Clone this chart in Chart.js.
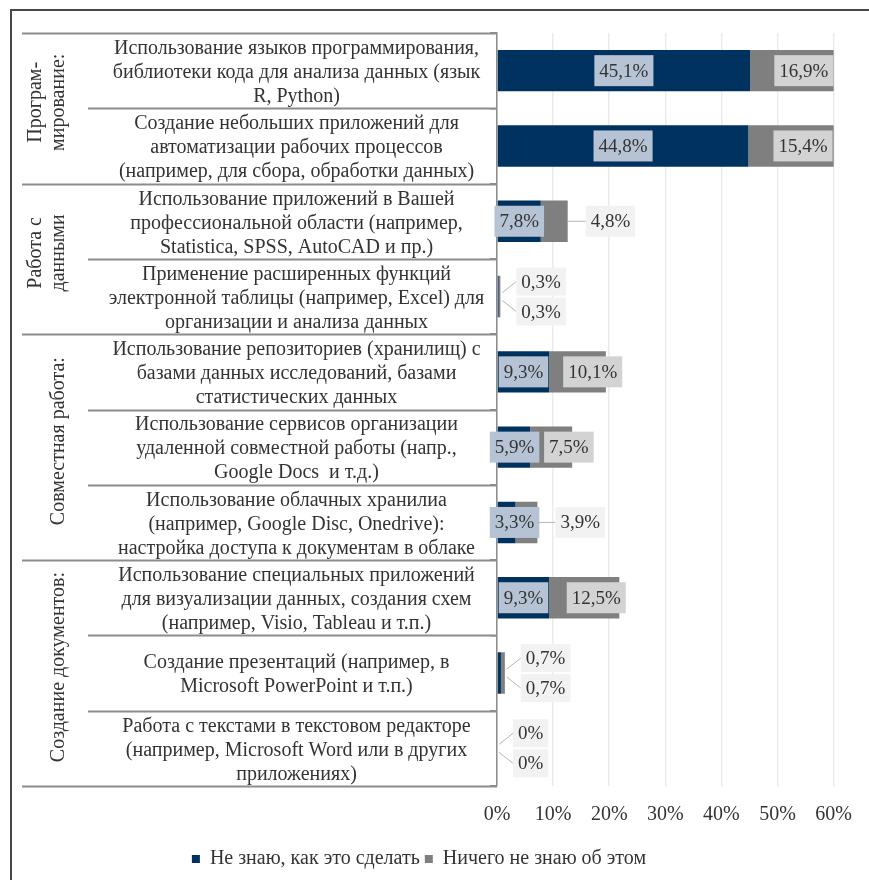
<!DOCTYPE html>
<html lang="ru">
  <head>
    <meta charset="UTF-8">
    <script src="https://cdn.jsdelivr.net/npm/chart.js"></script>
    <style>
      body { margin: 0; background: #fff; }
      #wrap { position: relative; width: 869px; height: 880px; overflow: hidden; }
      #frame {
        position: absolute; left: 10px; top: 9px; width: 900px; height: 900px;
        border-top: 2px solid #484848; border-left: 2px solid #484848;
      }
      #skillsChart { position: absolute; left: 0; top: 0; }
    </style>
  </head>
  <body>
    <div id="wrap">
      <div id="frame"></div>
      <canvas id="skillsChart" width="869" height="880"></canvas>
    </div>

    <script>
      const FONT = "'Liberation Serif', 'Times New Roman', serif";

      // category labels (one array of lines per bar)
      const categories = [
        ['Использование языков программирования,', 'библиотеки кода для анализа данных (язык', 'R, Python)'],
        ['Создание небольших приложений для', 'автоматизации рабочих процессов', '(например, для сбора, обработки данных)'],
        ['Использование приложений в Вашей', 'профессиональной области (например,', 'Statistica, SPSS, AutoCAD и пр.)'],
        ['Применение расширенных функций', 'электронной таблицы (например, Excel) для', 'организации и анализа данных'],
        ['Использование репозиториев (хранилищ) с', 'базами данных исследований, базами', 'статистических данных'],
        ['Использование сервисов организации', 'удаленной совместной работы (напр.,', 'Google Docs  и т.д.)'],
        ['Использование облачных хранилиа', '(например, Google Disc, Onedrive):', 'настройка доступа к документам в облаке'],
        ['Использование специальных приложений', 'для визуализации данных, создания схем', '(например, Visio, Tableau и т.п.)'],
        ['Создание презентаций (например, в', 'Microsoft PowerPoint и т.п.)'],
        ['Работа с текстами в текстовом редакторе', '(например, Microsoft Word или в других', 'приложениях)']
      ];

      // groups shown in the rotated left column
      const groupNames = [['Програм-', 'мирование:'], ['Работа с', 'данными'], ['Совместная работа:'], ['Создание документов:']];
      const groupSizes = [2, 2, 3, 3];

      const seriesNames = ['Не знаю, как это сделать', 'Ничего не знаю об этом'];
      const dontKnowHow = [45.1, 44.8, 7.8, 0.3, 9.3, 5.9, 3.3, 9.3, 0.7, 0];
      const knowNothing = [16.9, 15.4, 4.8, 0.3, 10.1, 7.5, 3.9, 12.5, 0.7, 0];

      const xMin = 0, xMax = 60, xStep = 10;

      function fmt(v) {
        return v === 0 ? '0%' : v.toFixed(1).replace('.', ',') + '%';
      }

      function drawBox(ctx, cx, cy, w, h, bg, text) {
        ctx.fillStyle = bg;
        ctx.fillRect(cx - w / 2, cy - h / 2, w, h);
        ctx.fillStyle = '#333';
        ctx.fillText(text, cx, cy + 1);
      }

      function leader(ctx, x1, y1, x2, y2) {
        ctx.strokeStyle = '#b5b5b5';
        ctx.lineWidth = 1;
        ctx.beginPath();
        ctx.moveTo(x1, y1);
        ctx.lineTo(x2, y2);
        ctx.stroke();
      }

      // value labels drawn from the bar elements
      const valueLabels = {
        id: 'valueLabels',
        afterDatasetsDraw(chart) {
          const ctx = chart.ctx;
          const area = chart.chartArea;
          const m0 = chart.getDatasetMeta(0).data;
          const m1 = chart.getDatasetMeta(1).data;
          ctx.save();
          ctx.font = '19px ' + FONT;
          ctx.textAlign = 'center';
          ctx.textBaseline = 'middle';
          categories.forEach((c, i) => {
            const a = m0[i], b = m1[i];
            const t0 = fmt(dontKnowHow[i]), t1 = fmt(knowNothing[i]);
            const w0 = ctx.measureText(t0).width + 10;
            const w1 = ctx.measureText(t1).width + 10;
            const h = 31;

            if (dontKnowHow[i] + knowNothing[i] < 2) {
              // tiny bars: both labels stacked on the right
              const end = Math.max(a.x, b.x);
              const left = end + 16;
              const y0 = a.y - 15, y1 = a.y + 15;
              leader(ctx, end + 2, a.y - 4, left, y0);
              leader(ctx, end + 2, a.y + 4, left, y1);
              drawBox(ctx, left + w0 / 2, y0, w0, 28, '#f2f2f2', t0);
              drawBox(ctx, left + w1 / 2, y1, w1, 28, '#f2f2f2', t1);
              return;
            }

            // first series
            const base0 = a.base, end0 = a.x;
            const cx0 = Math.max((base0 + end0) / 2, base0 + w0 / 2 - 8);
            drawBox(ctx, cx0, a.y, w0, h, '#b6c3d5', t0);

            // second series
            const start1 = b.base, end1 = Math.min(b.x, area.right);
            const seg = end1 - start1;
            if (seg < w1 * 0.6) {
              const left = end1 + 18;
              leader(ctx, end1, b.y, left, b.y);
              drawBox(ctx, left + w1 / 2, b.y, w1, h, '#f2f2f2', t1);
            } else {
              const cx1 = Math.min(Math.max((start1 + end1) / 2 + 12, start1 + w1 / 2 + 14), area.right + 2 - w1 / 2);
              drawBox(ctx, cx1, b.y, w1, h, '#d3d3d3', t1);
            }
          });
          ctx.restore();
        }
      };

      // table of category labels and group names to the left of the axis
      const labelTable = {
        id: 'labelTable',
        afterDraw(chart) {
          const ctx = chart.ctx;
          const area = chart.chartArea;
          const y = chart.scales.y;
          const n = categories.length;
          const tableLeft = 22, innerLeft = 88, right = area.left;
          const edge = i => i === 0 ? area.top : i === n ? area.bottom
            : (y.getPixelForTick(i - 1) + y.getPixelForTick(i)) / 2;

          // boundaries that start a new group
          const groupStarts = [0];
          groupSizes.forEach(s => groupStarts.push(groupStarts[groupStarts.length - 1] + s));

          ctx.save();
          ctx.strokeStyle = '#8c8c8c';
          ctx.lineWidth = 2;
          for (let i = 0; i <= n; i++) {
            const yy = Math.round(edge(i)) + 0.5;
            ctx.beginPath();
            ctx.moveTo(groupStarts.includes(i) ? tableLeft : innerLeft, yy);
            ctx.lineTo(right, yy);
            ctx.stroke();
          }

          ctx.fillStyle = '#333';
          ctx.font = '20px ' + FONT;
          ctx.textAlign = 'center';
          ctx.textBaseline = 'middle';
          const cx = (innerLeft + right) / 2 + 4;
          categories.forEach((lines, i) => {
            const cy = y.getPixelForTick(i) + 2;
            lines.forEach((line, k) => {
              ctx.fillText(line, cx, cy + (k - (lines.length - 1) / 2) * 24);
            });
          });

          // rotated group names
          groupNames.forEach((lines, g) => {
            const top = edge(groupStarts[g]);
            const bottom = edge(groupStarts[g + 1]);
            const cy = (top + bottom) / 2 - 6;
            lines.forEach((line, k) => {
              const gx = 59 - (lines.length - 1 - k) * 23;
              ctx.save();
              ctx.translate(gx, cy);
              ctx.rotate(-Math.PI / 2);
              ctx.fillText(line, 0, 0);
              ctx.restore();
            });
          });
          ctx.restore();
        }
      };

      const ctx = document.getElementById('skillsChart').getContext('2d');

      new Chart(ctx, {
        type: 'bar',
        data: {
          labels: categories,
          datasets: [
            {
              label: seriesNames[0],
              data: dontKnowHow,
              backgroundColor: '#00325f',
              barPercentage: 0.55,
              categoryPercentage: 1
            },
            {
              label: seriesNames[1],
              data: knowNothing,
              backgroundColor: '#7f7f7f',
              barPercentage: 0.55,
              categoryPercentage: 1
            }
          ]
        },
        options: {
          indexAxis: 'y',
          responsive: false,
          animation: false,
          layout: { padding: { left: 0, top: 33, right: 31, bottom: 1 } },
          plugins: {
            legend: {
              position: 'bottom',
              labels: {
                font: { family: FONT, size: 20 },
                color: '#333',
                boxWidth: 8,
                boxHeight: 8,
                padding: 5
              }
            },
            tooltip: { enabled: false }
          },
          scales: {
            x: {
              stacked: true,
              min: xMin,
              max: xMax,
              ticks: {
                stepSize: xStep,
                callback: v => v + '%',
                font: { family: FONT, size: 20 },
                color: '#333',
                padding: 17
              },
              grid: { color: '#ebebeb', lineWidth: 1.5, drawTicks: false },
              border: { display: false }
            },
            y: {
              stacked: true,
              ticks: { display: false },
              grid: { drawOnChartArea: false, color: '#8c8c8c', tickLength: 7, lineWidth: 1.5, offset: true },
              border: { color: '#8c8c8c', width: 1.5 },
              afterFit(scale) { scale.width = 497; }
            }
          }
        },
        plugins: [valueLabels, labelTable]
      });
    </script>
  </body>
</html>
